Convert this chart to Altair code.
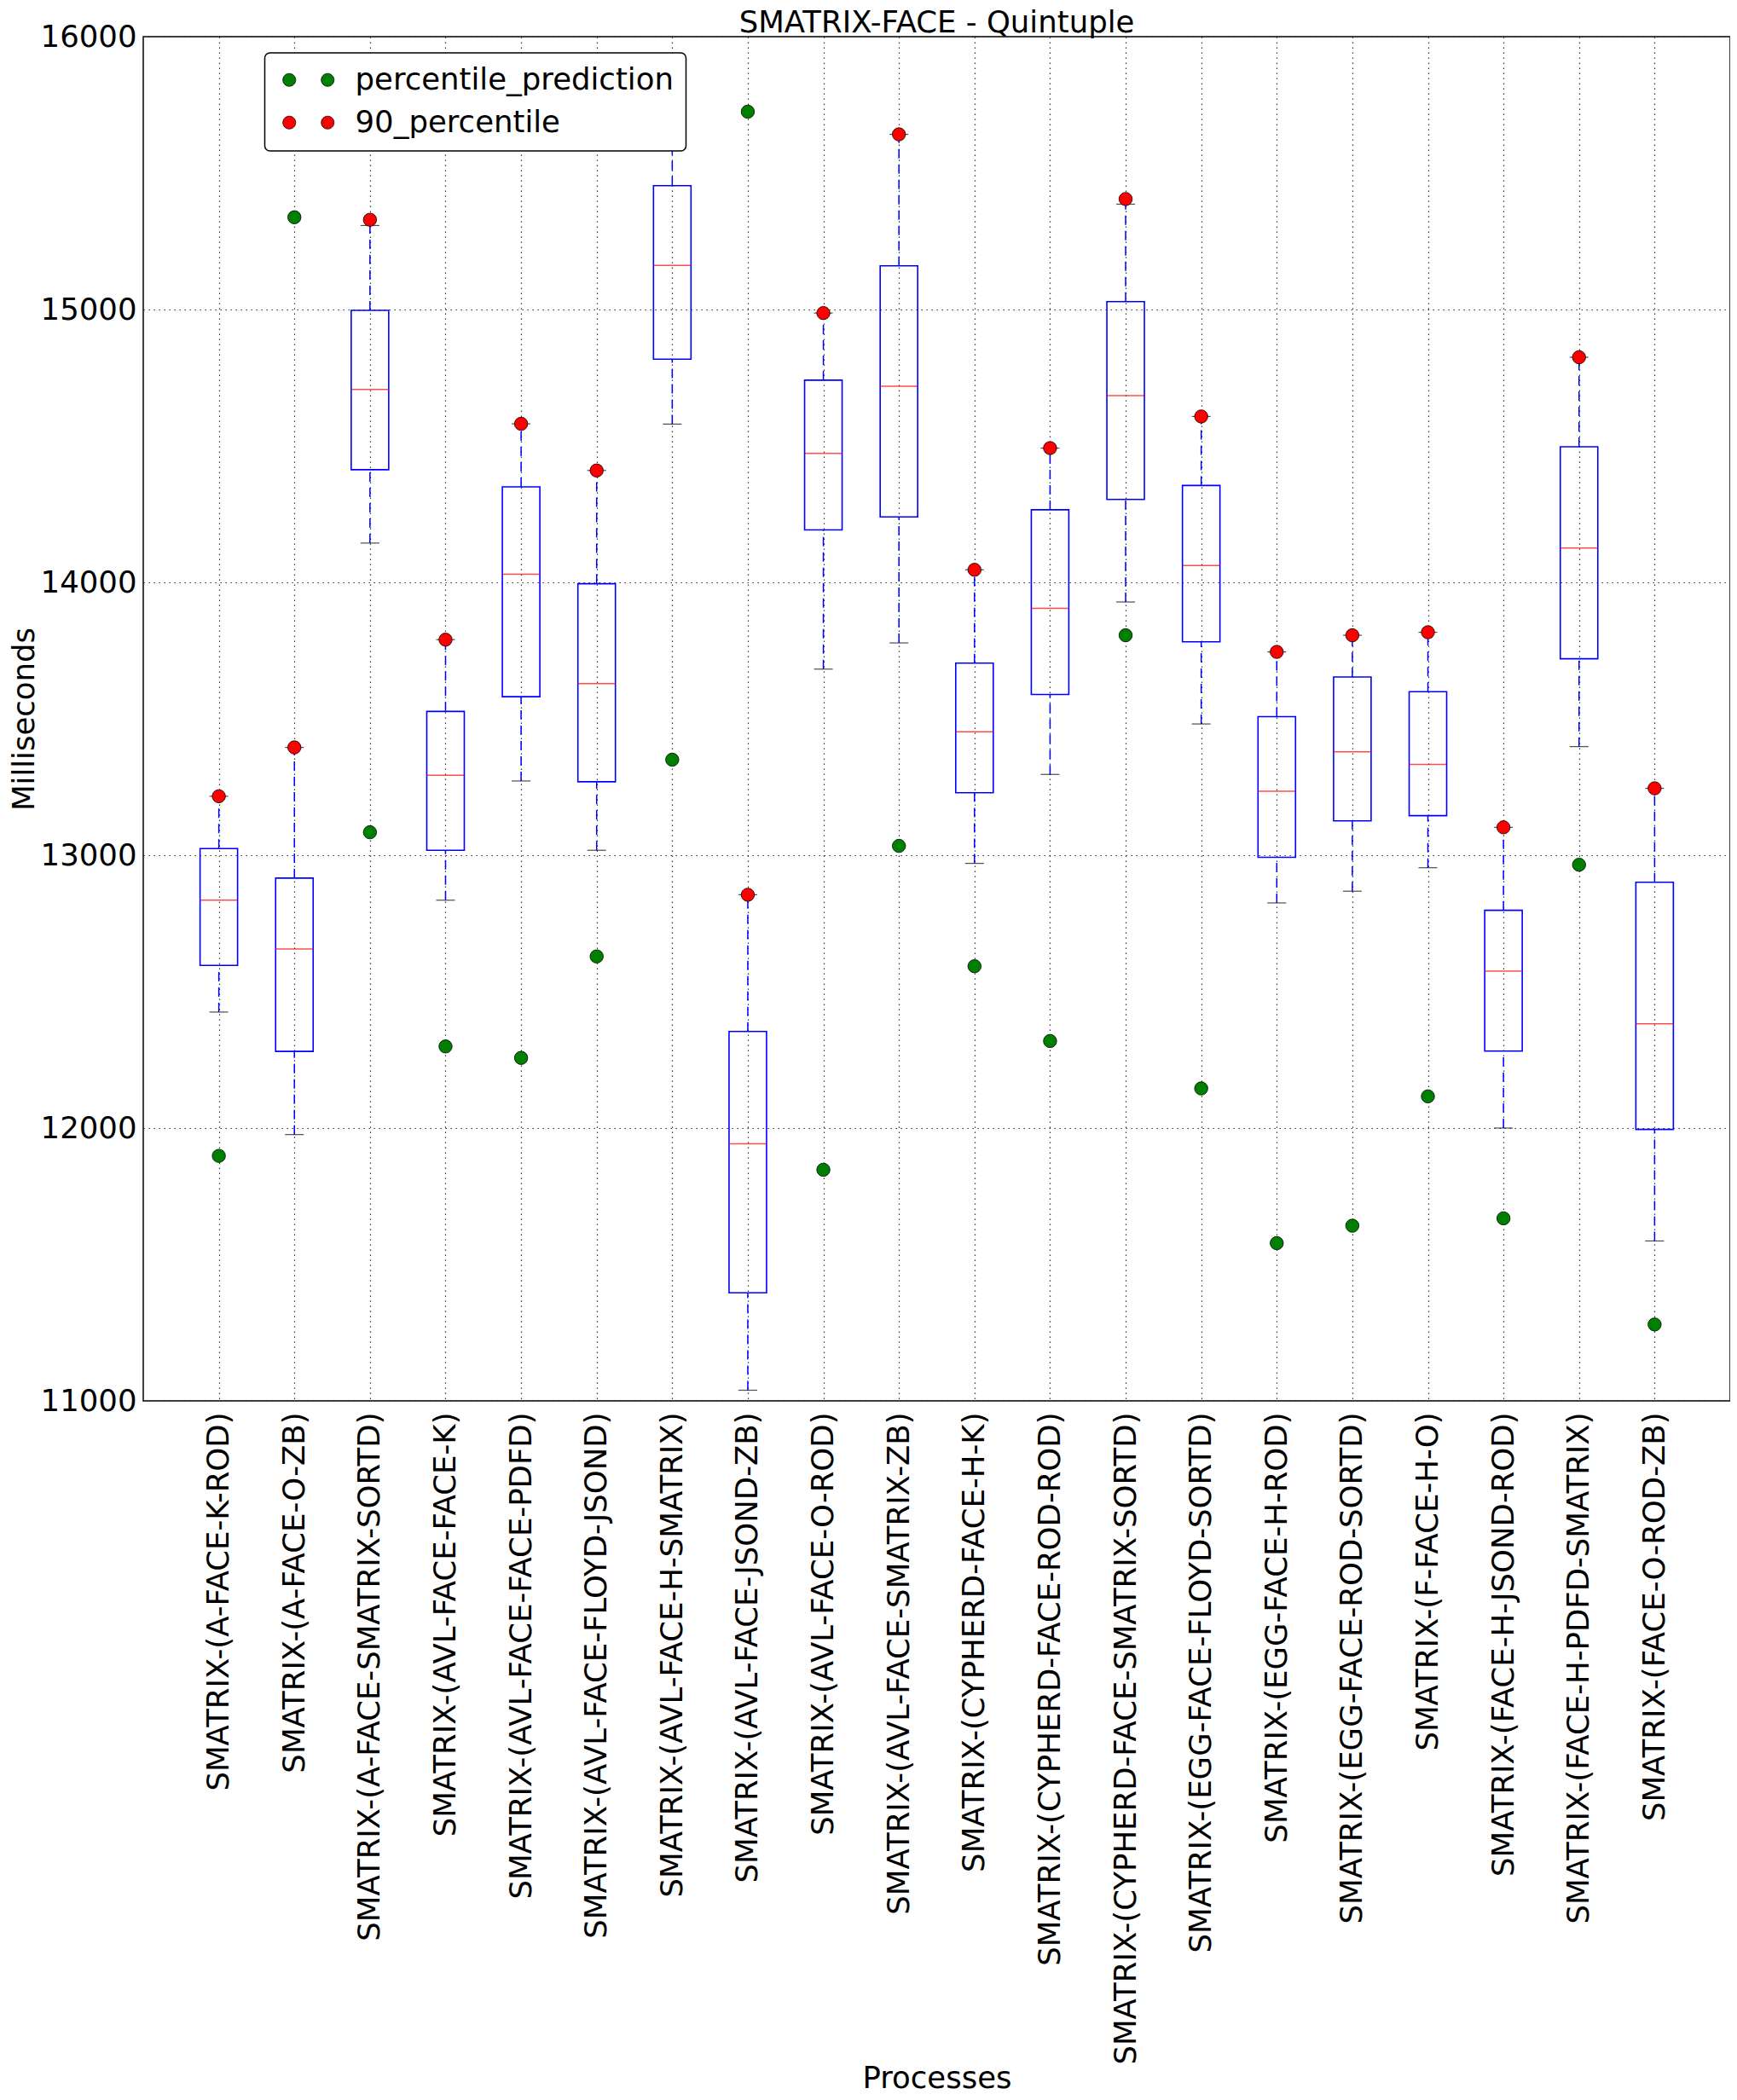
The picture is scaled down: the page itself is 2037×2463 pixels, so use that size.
import altair as alt
import pandas as pd

chart_title = ["SMATRIX-FACE - Quintuple"]

categories = [
    "SMATRIX-(A-FACE-K-ROD)",
    "SMATRIX-(A-FACE-O-ZB)",
    "SMATRIX-(A-FACE-SMATRIX-SORTD)",
    "SMATRIX-(AVL-FACE-FACE-K)",
    "SMATRIX-(AVL-FACE-FACE-PDFD)",
    "SMATRIX-(AVL-FACE-FLOYD-JSOND)",
    "SMATRIX-(AVL-FACE-H-SMATRIX)",
    "SMATRIX-(AVL-FACE-JSOND-ZB)",
    "SMATRIX-(AVL-FACE-O-ROD)",
    "SMATRIX-(AVL-FACE-SMATRIX-ZB)",
    "SMATRIX-(CYPHERD-FACE-H-K)",
    "SMATRIX-(CYPHERD-FACE-ROD-ROD)",
    "SMATRIX-(CYPHERD-FACE-SMATRIX-SORTD)",
    "SMATRIX-(EGG-FACE-FLOYD-SORTD)",
    "SMATRIX-(EGG-FACE-H-ROD)",
    "SMATRIX-(EGG-FACE-ROD-SORTD)",
    "SMATRIX-(F-FACE-H-O)",
    "SMATRIX-(FACE-H-JSOND-ROD)",
    "SMATRIX-(FACE-H-PDFD-SMATRIX)",
    "SMATRIX-(FACE-O-ROD-ZB)",
]

whisker_low = [12425, 11976, 14144, 12835, 13272, 13018, 14580, 11039, 13682, 13778,
               12970, 13296, 13928, 13481, 12825, 12868, 12954, 12000, 13398, 11586]
q1 = [12596, 12281, 14413, 13018, 13581, 13269, 14818, 11396, 14192, 14240,
      13229, 13589, 14304, 13782, 12992, 13126, 13145, 12282, 13720, 11995]
median = [12835, 12656, 14707, 13293, 14030, 13629, 15162, 11942, 14473, 14719,
          13452, 13905, 14684, 14062, 13234, 13379, 13333, 12575, 14126, 12382]
q3 = [13024, 12916, 14997, 13527, 14350, 13995, 15454, 12354, 14741, 15160,
      13704, 14266, 15029, 14355, 13508, 13653, 13599, 12798, 14497, 12901]
whisker_high = [13216, 13395, 15308, 13790, 14581, 14410, 15680, 12855, 14987, 15642,
                14046, 14492, 15386, 14608, 13745, 13806, 13817, 13102, 14825, 13245]
percentile_90 = [13216, 13395, 15329, 13790, 14581, 14410, 15680, 12855, 14987, 15642,
                 14046, 14492, 15405, 14608, 13745, 13806, 13817, 13102, 14825, 13245]
percentile_prediction = [11898, 15338, 13084, 12299, 12257, 12629, 13350, 15725, 11847, 13034,
                         12593, 12319, 13806, 12145, 11578, 11642, 12116, 11669, 12965, 11280]

series_names = ["percentile_prediction", "90_percentile"]
series_colors = ["#008000", "#ff0000"]
y_ticks = [11000, 12000, 13000, 14000, 15000, 16000]

box_df = pd.DataFrame({
    "category": categories,
    "wlow": whisker_low,
    "q1": q1,
    "median": median,
    "q3": q3,
    "whigh": whisker_high,
})

pts_df = pd.concat([
    pd.DataFrame({"category": categories, "value": percentile_prediction, "series": series_names[0]}),
    pd.DataFrame({"category": categories, "value": percentile_90, "series": series_names[1]}),
])

title_df = pd.DataFrame({"title": chart_title})

FONT = "DejaVu Sans"
FS = 35.5
W = 1861
H = 1600

x_enc = alt.X(
    "category:N",
    sort=categories,
    scale=alt.Scale(type="point", padding=1),
    axis=alt.Axis(
        title="Processes",
        labelAngle=270,
        labelAlign="right",
        labelBaseline="middle",
        labelPadding=13,
        labelLimit=1000,
        titleX=W / 2,
        titleY=805,
        titleAlign="center",
        titleBaseline="alphabetic",
    ),
)
y_scale = alt.Scale(domain=[11000, 16000], nice=False, zero=False)


def yenc(field):
    return alt.Y(
        f"{field}:Q",
        scale=y_scale,
        axis=alt.Axis(
            title="Milliseconds",
            values=y_ticks,
            format="d",
            labelPadding=8,
            titleX=-140,
            titleY=H / 2,
            titleAngle=270,
            titleAlign="center",
            titleBaseline="middle",
        ),
    )


base = alt.Chart(box_df)

lower_whisker = base.mark_rule(color="#0000ff", strokeWidth=1.5, strokeDash=[11, 7]).encode(
    x=x_enc, y=yenc("wlow"), y2="q1:Q"
)
upper_whisker = base.mark_rule(color="#0000ff", strokeWidth=1.5, strokeDash=[11, 7]).encode(
    x=x_enc, y=yenc("q3"), y2="whigh:Q"
)
boxes = base.mark_bar(width=44, fill="white", fillOpacity=0, stroke="#0000ff", strokeWidth=1.6).encode(
    x=x_enc, y=yenc("q1"), y2="q3:Q"
)
medians = base.mark_tick(color="#ff0000", size=44, thickness=1.5).encode(
    x=x_enc, y=yenc("median")
)
cap_low = base.mark_tick(color="black", size=22, thickness=1.2).encode(
    x=x_enc, y=yenc("wlow")
)
cap_high = base.mark_tick(color="black", size=22, thickness=1.2).encode(
    x=x_enc, y=yenc("whigh")
)

two_dots = ("M-4,0A1,1,0,1,0,-2,0A1,1,0,1,0,-4,0Z"
            "M2,0A1,1,0,1,0,4,0A1,1,0,1,0,2,0Z")

points = alt.Chart(pts_df).mark_point(
    filled=True, size=240, stroke="black", strokeWidth=0.8, opacity=1
).encode(
    x=x_enc,
    y=yenc("value"),
    color=alt.Color(
        "series:N",
        scale=alt.Scale(domain=series_names, range=series_colors),
        legend=alt.Legend(
            title=None,
            orient="none",
            legendX=142.5,
            legendY=19,
            direction="vertical",
            fillColor="white",
            strokeColor="black",
            cornerRadius=6,
            padding=14,
            labelFont=FONT,
            labelFontSize=FS,
            labelColor="black",
            labelLimit=1000,
            symbolType=two_dots,
            symbolSize=225,
            symbolOffset=19.5,
            symbolStrokeColor="black",
            symbolStrokeWidth=0.8,
            symbolOpacity=1,
            labelOffset=37,
            rowPadding=13,
        ),
    ),
)

title_text = alt.Chart(title_df).mark_text(
    font=FONT, fontSize=FS, color="black", align="center", baseline="alphabetic"
).encode(
    text="title:N",
    x=alt.value(W / 2),
    y=alt.value(-5),
)

chart = alt.layer(
    lower_whisker, upper_whisker, boxes, medians, cap_low, cap_high, points, title_text
).properties(
    width=W,
    height=H,
    autosize=alt.AutoSizeParams(type="none"),
    padding={"left": 160, "top": 35, "right": 0, "bottom": 812},
).configure_view(
    stroke="black", strokeWidth=1.5
).configure_axis(
    labelFont=FONT,
    titleFont=FONT,
    labelFontSize=FS,
    titleFontSize=FS,
    labelColor="black",
    titleColor="black",
    titleFontWeight="normal",
    grid=True,
    gridColor="#333333",
    gridWidth=1.2,
    gridDash=[1.5, 4.5],
    domain=False,
    ticks=False,
).configure_legend(
    strokeWidth=1.5
)

chart.save("out.html", embed_options={"renderer": "svg", "actions": False})
